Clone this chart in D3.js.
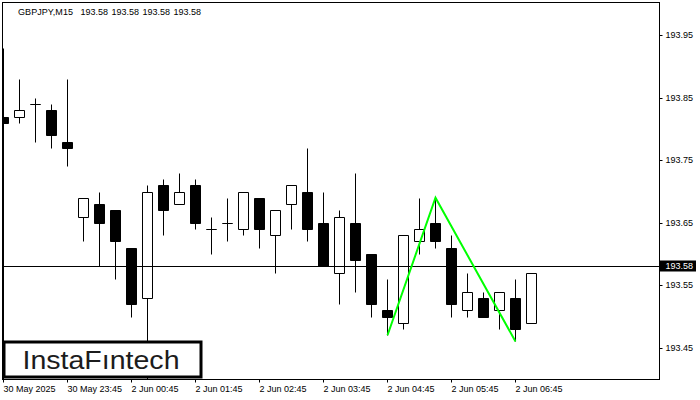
<!DOCTYPE html>
<html>
<head>
<meta charset="utf-8">
<script src="https://cdn.jsdelivr.net/npm/d3@7"></script>
<style>
  html, body { margin: 0; padding: 0; background: #fff; }
  svg { display: block; }
  text { font-family: "Liberation Sans", Arial, sans-serif; }
</style>
</head>
<body>
<svg id="chart" width="700" height="400"></svg>
<script>
// ---- data ----
const times = ["30 May 22:45","30 May 23:00","30 May 23:15","30 May 23:30","30 May 23:45",
  "2 Jun 00:00","2 Jun 00:15","2 Jun 00:30","2 Jun 00:45","2 Jun 01:00","2 Jun 01:15","2 Jun 01:30","2 Jun 01:45",
  "2 Jun 02:00","2 Jun 02:15","2 Jun 02:30","2 Jun 02:45","2 Jun 03:00","2 Jun 03:15","2 Jun 03:30","2 Jun 03:45",
  "2 Jun 04:00","2 Jun 04:15","2 Jun 04:30","2 Jun 04:45","2 Jun 05:00","2 Jun 05:15","2 Jun 05:30","2 Jun 05:45",
  "2 Jun 06:00","2 Jun 06:15","2 Jun 06:30","2 Jun 06:45","2 Jun 07:00"];
const opens  = [193.82,193.82,193.84,193.83,193.78,193.66,193.68,193.67,193.61,193.53,193.71,193.68,193.71,193.64,193.65,193.64,193.69,193.63,193.68,193.70,193.65,193.57,193.65,193.60,193.51,193.49,193.62,193.65,193.61,193.51,193.53,193.51,193.53,193.49];
const highs  = [193.93,193.88,193.85,193.84,193.88,193.69,193.70,193.67,193.61,193.71,193.72,193.73,193.72,193.66,193.69,193.70,193.69,193.67,193.71,193.77,193.70,193.67,193.73,193.60,193.56,193.63,193.69,193.69,193.63,193.57,193.54,193.54,193.56,193.57];
const lows   = [193.38,193.81,193.78,193.77,193.74,193.62,193.58,193.56,193.50,193.40,193.63,193.68,193.64,193.60,193.62,193.63,193.61,193.57,193.64,193.62,193.58,193.52,193.54,193.50,193.47,193.48,193.60,193.61,193.50,193.50,193.50,193.48,193.46,193.49];
const closes = [193.81,193.83,193.84,193.79,193.77,193.69,193.65,193.62,193.52,193.70,193.67,193.70,193.65,193.64,193.65,193.70,193.64,193.67,193.71,193.64,193.58,193.66,193.59,193.52,193.50,193.63,193.64,193.62,193.52,193.54,193.50,193.54,193.48,193.57];
const xTickIdx    = [0,4,8,12,16,20,24,28,32];
const xTickLabels = ["30 May 2025","30 May 23:45","2 Jun 00:45","2 Jun 01:45","2 Jun 02:45","2 Jun 03:45","2 Jun 04:45","2 Jun 05:45","2 Jun 06:45"];
const yTicks = [193.45,193.55,193.65,193.75,193.85,193.95];
const lastPrice = 193.58;
const patternIdx   = [24,27,32];
const patternPrice = [193.47,193.69,193.46];
const symbol = "GBPJPY,M15";
const headerVals = ["193.58","193.58","193.58","193.58"];
const logoText = "InstaF\u0131ntech";

// ---- layout ----
const L = 2, R = 659, T = 2, B = 379;
const svg = d3.select("#chart");
const x = d3.scaleLinear().domain([0, 33]).range([3.5, 3.5 + 16 * 33]);
const y = d3.scaleLinear().domain([193.40, 194.00]).range([379, 4]);
const py = v => Math.round(y(v)) + 0.5;

svg.append("defs").append("clipPath").attr("id", "plot")
  .append("rect").attr("x", L + 0.5).attr("y", T + 0.5).attr("width", R - L).attr("height", B - T);

const plot = svg.append("g").attr("clip-path", "url(#plot)");

const data = times.map((t, i) => ({ i, o: opens[i], h: highs[i], l: lows[i], c: closes[i] }));

// wicks
plot.selectAll("line.wick").data(data).join("line")
  .attr("class", "wick")
  .attr("x1", d => x(d.i)).attr("x2", d => x(d.i))
  .attr("y1", d => py(d.h)).attr("y2", d => py(d.l))
  .attr("stroke", "#000").attr("stroke-width", 1);

// bodies
plot.selectAll("path.body").data(data).join("path")
  .attr("class", "body")
  .attr("d", d => {
    const x0 = x(d.i) - 5, x1 = x(d.i) + 5;
    const y0 = py(Math.max(d.o, d.c)), y1 = py(Math.min(d.o, d.c));
    return `M${x0},${y0}H${x1}V${y1}H${x0}Z`;
  })
  .attr("fill", d => d.c < d.o ? "#000" : "#fff")
  .attr("stroke", "#000").attr("stroke-width", 1);

// last price line
plot.append("line")
  .attr("x1", L).attr("x2", R + 1)
  .attr("y1", py(lastPrice)).attr("y2", py(lastPrice))
  .attr("stroke", "#000").attr("stroke-width", 1);

// pattern
plot.append("path")
  .datum(patternIdx.map((k, j) => [x(k), y(patternPrice[j])]))
  .attr("d", d3.line())
  .attr("fill", "none").attr("stroke", "#00ff00").attr("stroke-width", 2);

// frame
svg.append("rect").attr("x", L + 0.5).attr("y", T + 0.5).attr("width", R - L).attr("height", B - T)
  .attr("fill", "none").attr("stroke", "#000").attr("stroke-width", 1);

// y axis
const yAxis = d3.axisRight(y).tickValues(yTicks).tickSize(3).tickPadding(3).tickFormat(d3.format(".2f"));
const gy = svg.append("g").attr("transform", `translate(${R + 0.5},0)`).call(yAxis);
gy.select(".domain").remove();
gy.selectAll(".tick").attr("transform", d => `translate(0,${py(d)})`);
gy.selectAll("text").attr("font-family", "'Liberation Sans', Arial, sans-serif").attr("font-size", 9).attr("fill", "#000");
gy.selectAll("line").attr("stroke", "#000");

// price label
const pl = svg.append("g");
pl.append("rect").attr("x", 660).attr("y", py(lastPrice) - 6).attr("width", 36).attr("height", 11).attr("fill", "#000");
pl.append("text").attr("x", 665.5).attr("y", py(lastPrice)).attr("dy", "0.33em")
  .attr("font-size", 9).attr("fill", "#fff").text(lastPrice.toFixed(2));

// x axis
const xAxis = d3.axisBottom(x).tickValues(xTickIdx).tickSize(3).tickFormat((d, j) => xTickLabels[j]);
const gx = svg.append("g").attr("transform", `translate(0,${B + 0.5})`).call(xAxis);
gx.select(".domain").remove();
gx.selectAll(".tick").attr("transform", d => `translate(${Math.round(x(d)) - 0.5},0)`);
gx.selectAll("line").attr("stroke", "#000");
gx.selectAll("text").attr("font-family", "'Liberation Sans', Arial, sans-serif").attr("font-size", 9)
  .attr("fill", "#000").attr("text-anchor", "start").attr("x", 0).attr("y", 0).attr("dy", 12.5);

// header
const hdr = svg.append("g").attr("font-size", 9).attr("fill", "#000");
hdr.append("text").attr("x", 18).attr("y", 14.5).attr("textLength", 55).text(symbol);
headerVals.forEach((v, j) => {
  hdr.append("text").attr("x", 80.5 + 31 * j).attr("y", 14.5).attr("textLength", 27.5).text(v);
});

// logo
const logo = svg.append("g");
logo.append("rect").attr("x", 4).attr("y", 342).attr("width", 197).attr("height", 35)
  .attr("fill", "#fff").attr("stroke", "#000").attr("stroke-width", 3);
logo.append("text").attr("x", 22.5).attr("y", 369.3)
  .attr("font-family", "Inter, 'Noto Sans', sans-serif").attr("font-weight", 500).attr("font-size", 25.5)
  .attr("fill", "#1c1c1c").attr("textLength", 157).attr("lengthAdjust", "spacingAndGlyphs").text(logoText);
</script>
</body>
</html>
